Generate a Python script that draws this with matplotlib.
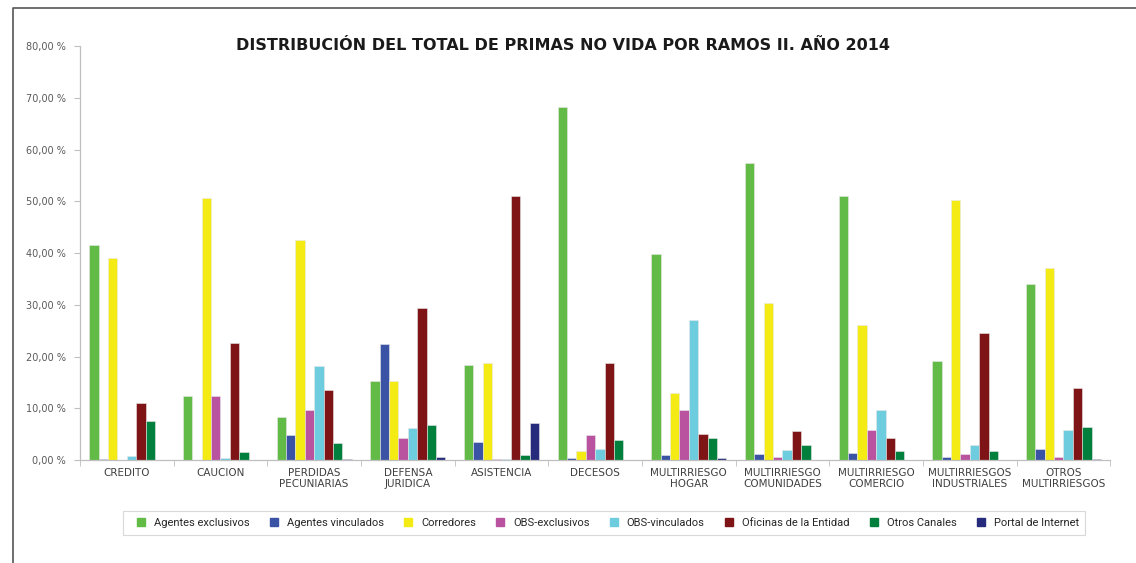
import numpy as np
import matplotlib
matplotlib.use("Agg")
import matplotlib.pyplot as plt
from matplotlib.lines import Line2D
from matplotlib.ticker import FuncFormatter

# data (% of premiums per line of business)
ramos = ["CREDITO", "CAUCION", "PERDIDAS\nPECUNIARIAS", "DEFENSA\nJURIDICA", "ASISTENCIA",
         "DECESOS", "MULTIRRIESGO\nHOGAR", "MULTIRRIESGO\nCOMUNIDADES", "MULTIRRIESGO\nCOMERCIO",
         "MULTIRRIESGOS\nINDUSTRIALES", "OTROS\nMULTIRRIESGOS"]
canales = ["Agentes exclusivos", "Agentes vinculados", "Corredores", "OBS-exclusivos",
           "OBS-vinculados", "Oficinas de la Entidad", "Otros Canales", "Portal de Internet"]

agentes_exclusivos = [41.5, 12.3, 8.3, 15.3, 18.3, 68.3, 39.8, 57.5, 51.0, 19.1, 34.1]
agentes_vinculados = [0.1, 0.0, 4.8, 22.4, 3.4, 0.4, 1.0, 1.2, 1.3, 0.5, 2.1]
corredores = [39.0, 50.7, 42.6, 15.3, 18.8, 1.8, 13.0, 30.4, 26.1, 50.2, 37.2]
obs_exclusivos = [0.0, 12.3, 9.6, 4.2, 0.2, 4.8, 9.6, 0.5, 5.8, 1.1, 0.5]
obs_vinculados = [0.7, 0.3, 18.1, 6.2, 0.1, 2.2, 27.0, 2.0, 9.7, 2.8, 5.7]
oficinas = [11.0, 22.6, 13.5, 29.3, 51.0, 18.8, 5.1, 5.6, 4.3, 24.6, 14.0]
otros_canales = [7.5, 1.6, 3.2, 6.8, 1.0, 3.8, 4.2, 2.8, 1.8, 1.7, 6.4]
portal_internet = [0.0, 0.0, 0.1, 0.5, 7.2, 0.0, 0.4, 0.0, 0.0, 0.0, 0.2]

series = [agentes_exclusivos, agentes_vinculados, corredores, obs_exclusivos,
          obs_vinculados, oficinas, otros_canales, portal_internet]
colores = ["#62BB46", "#3A53A4", "#F5EB14", "#B9529F", "#6DCCDD", "#7F1416", "#00803C", "#262C7B"]

fig = plt.figure(figsize=(11.36, 5.63), dpi=100)
ax = fig.add_axes([0.0704, 0.183, 0.907, 0.735])

x = np.arange(len(ramos))
w = 0.1
for i, (vals, col) in enumerate(zip(series, colores)):
    ax.bar(x + (i - 3.5) * w, vals, w, color=col, edgecolor="#e8e8e8", linewidth=0.4)

ax.set_xlim(-0.5, len(ramos) - 0.5)
ax.set_ylim(0, 80)
ax.set_yticks(np.arange(0, 81, 10))
ax.yaxis.set_major_formatter(FuncFormatter(lambda v, p: f"{v:.2f}".replace(".", ",") + " %"))
ax.set_xticks(x)
ax.set_xticklabels(ramos, fontsize=7.5, color="#404040", linespacing=1.1)
ax.set_xticks(np.arange(-0.5, len(ramos), 1), minor=True)
ax.tick_params(axis="x", which="major", length=0, pad=6)
ax.tick_params(axis="x", which="minor", length=4, color="#bfbfbf")
ax.tick_params(axis="y", labelsize=7, labelcolor="#595959", length=4, color="#bfbfbf", pad=6)

for s in ["top", "right"]:
    ax.spines[s].set_visible(False)
for s in ["left", "bottom"]:
    ax.spines[s].set_color("#bfbfbf")
    ax.spines[s].set_linewidth(0.9)

fig.text(0.496, 0.92, "DISTRIBUCIÓN DEL TOTAL DE PRIMAS NO VIDA POR RAMOS II. AÑO 2014",
         ha="center", va="center", fontsize=11.5, fontweight="bold", color="#1a1a1a")

handles = [Line2D([], [], marker="s", linestyle="", markersize=6, color=c) for c in colores]
leg = fig.legend(handles, canales, loc="center", bbox_to_anchor=(0.532, 0.071), ncol=8,
                 prop={"family": "Roboto", "size": 8}, labelcolor="#262626",
                 frameon=True, fancybox=False, handletextpad=0.15,
                 columnspacing=1.2, borderpad=0.6)
leg.get_frame().set_edgecolor("#d0d0d0")
leg.get_frame().set_linewidth(0.8)

# outer frame (top and left edges)
fig.add_artist(Line2D([13 / 1136, 13 / 1136, 1.0], [0.0, 1 - 8 / 563, 1 - 8 / 563],
                      transform=fig.transFigure, color="#555555", linewidth=1.2))

fig.savefig("out.png", dpi=100)
